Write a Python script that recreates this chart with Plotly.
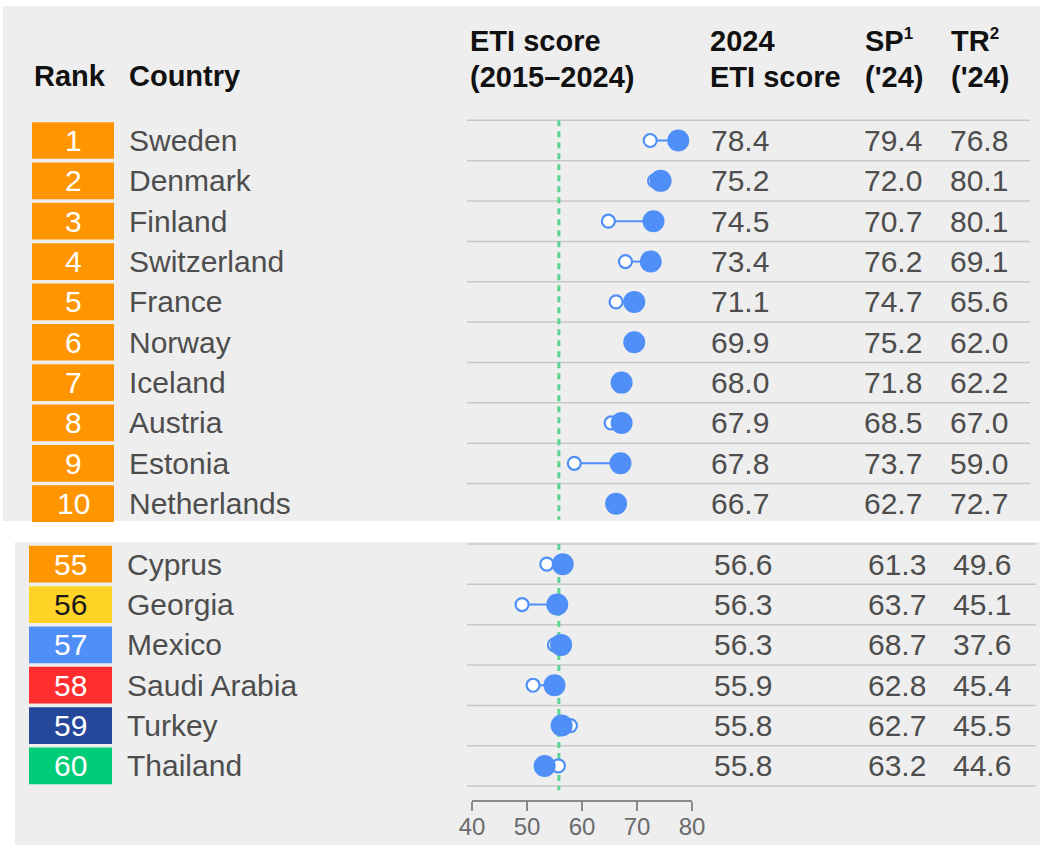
import plotly.graph_objects as go

# ---------------- data ----------------
ranks = [1, 2, 3, 4, 5, 6, 7, 8, 9, 10, 55, 56, 57, 58, 59, 60]
countries = ["Sweden", "Denmark", "Finland", "Switzerland", "France", "Norway",
             "Iceland", "Austria", "Estonia", "Netherlands",
             "Cyprus", "Georgia", "Mexico", "Saudi Arabia", "Turkey", "Thailand"]
# dot positions (2015 = hollow dot, 2024 = filled dot)
eti_dot_2015 = [72.4, 73.2, 64.8, 67.9, 66.2, 69.5, 67.2, 65.3, 58.6, 66.2,
                53.6, 49.1, 55.0, 51.1, 57.9, 55.7]
eti_dot_2024 = [77.5, 74.3, 73.0, 72.5, 69.5, 69.5, 67.2, 67.2, 67.0, 66.2,
                56.5, 55.5, 56.2, 55.0, 56.3, 53.2]
eti_2024 = [78.4, 75.2, 74.5, 73.4, 71.1, 69.9, 68.0, 67.9, 67.8, 66.7,
            56.6, 56.3, 56.3, 55.9, 55.8, 55.8]
sp_2024 = [79.4, 72.0, 70.7, 76.2, 74.7, 75.2, 71.8, 68.5, 73.7, 62.7,
           61.3, 63.7, 68.7, 62.8, 62.7, 63.2]
tr_2024 = [76.8, 80.1, 80.1, 69.1, 65.6, 62.0, 62.2, 67.0, 59.0, 72.7,
           49.6, 45.1, 37.6, 45.4, 45.5, 44.6]
benchmark = 55.8
axis_ticks = [40, 50, 60, 70, 80]

# ---------------- style ----------------
W, H = 1040, 845
ROW0_PX, ROW_PX = 140.5, 40.35
BLUE = "#4f8ff7"
GREEN = "#5cd393"
PANEL = "#eeeeee"
SEP = "#c8c8c8"
TXT = "#4d4d4d"
FONT = "Liberation Sans, Arial, sans-serif"
rank_fill = {55: "#ff9500", 56: "#ffd426", 57: "#4f8ff7", 58: "#ff2d2d",
             59: "#25479a", 60: "#00cc77"}
rank_text = {56: "#1a1a1a"}

def px(x):
    return x / W

def py(y):
    return 1 - y / H

# row coordinates: top block 0..9, bottom block after a gap
rows = []
for k, r in enumerate(ranks):
    rows.append(k if r <= 10 else k + 0.5)

y_top = (0 - ROW0_PX) / ROW_PX
y_bot = (H - ROW0_PX) / ROW_PX

fig = go.Figure()

# connectors
lx, ly = [], []
for a, b, r in zip(eti_dot_2015, eti_dot_2024, rows):
    lx += [a, b, None]
    ly += [r, r, None]
fig.add_trace(go.Scatter(x=lx, y=ly, mode="lines",
                         line=dict(color=BLUE, width=2), hoverinfo="skip",
                         showlegend=False))
fig.add_trace(go.Scatter(x=eti_dot_2015, y=rows, mode="markers",
                         marker=dict(size=13, color="white",
                                     line=dict(color=BLUE, width=2.2)),
                         showlegend=False, name="2015"))
fig.add_trace(go.Scatter(x=eti_dot_2024, y=rows, mode="markers",
                         marker=dict(size=22, color=BLUE,
                                     line=dict(width=0)),
                         showlegend=False, name="2024"))

shapes = []
# panels
shapes.append(dict(type="rect", xref="paper", yref="paper", layer="below",
                   x0=px(3), x1=1, y0=py(521), y1=py(6),
                   fillcolor=PANEL, line=dict(width=0)))
shapes.append(dict(type="rect", xref="paper", yref="paper", layer="below",
                   x0=px(15), x1=1, y0=0, y1=py(542),
                   fillcolor=PANEL, line=dict(width=0)))

# separators
top_rows = [r for r, k in zip(rows, ranks) if k <= 10]
bot_rows = [r for r, k in zip(rows, ranks) if k > 10]
for r in top_rows:
    shapes.append(dict(type="line", xref="paper", yref="y", layer="below",
                       x0=px(467), x1=px(1030), y0=r - 0.5, y1=r - 0.5,
                       line=dict(color=SEP, width=1.5)))
for r in bot_rows + [bot_rows[-1] + 1]:
    shapes.append(dict(type="line", xref="paper", yref="y", layer="below",
                       x0=px(467), x1=px(1036), y0=r - 0.5, y1=r - 0.5,
                       line=dict(color=SEP, width=1.5)))

# benchmark dashed line (two segments)
shapes.append(dict(type="line", xref="x", yref="y", layer="below",
                   x0=benchmark, x1=benchmark, y0=top_rows[0] - 0.5,
                   y1=top_rows[-1] + 0.4,
                   line=dict(color=GREEN, width=3, dash="6px,5px")))
shapes.append(dict(type="line", xref="x", yref="y", layer="below",
                   x0=benchmark, x1=benchmark, y0=bot_rows[0] - 0.5,
                   y1=bot_rows[-1] + 0.6,
                   line=dict(color=GREEN, width=3, dash="6px,5px")))

annotations = []

def ann(text, x, y, xanchor="left", yref="y", size=30, color=TXT, bold=False):
    annotations.append(dict(text=text, x=x, y=y, xref="paper", yref=yref,
                            xanchor=xanchor, yanchor="middle", showarrow=False,
                            font=dict(family=FONT, size=size, color=color,
                                      weight="bold" if bold else "normal")))

for k, (rk, c, r) in enumerate(zip(ranks, countries, rows)):
    top = rk <= 10
    bx0, bx1 = (32, 114) if top else (29, 112)
    shapes.append(dict(type="rect", xref="paper", yref="y", layer="below",
                       x0=px(bx0), x1=px(bx1), y0=r - 0.455, y1=r + 0.455,
                       fillcolor=rank_fill.get(rk, "#ff9500"),
                       line=dict(width=0)))
    ann(str(rk), px((bx0 + bx1) / 2), r, xanchor="center",
        color=rank_text.get(rk, "white"))
    ann(c, px(127 if top else 125), r)
    ann(f"{eti_2024[k]:.1f}", px(709 if top else 712), r)
    ann(f"{sp_2024[k]:.1f}", px(924 if top else 928), r, xanchor="right")
    ann(f"{tr_2024[k]:.1f}", px(1010 if top else 1013), r, xanchor="right")

# headers
HC = "#111111"
SUP = "<sup><span style='font-size:17px'>{}</span></sup>"
ann("Rank", px(32), py(76), yref="paper", color=HC, size=29, bold=True)
ann("Country", px(127), py(76), yref="paper", color=HC, size=29, bold=True)
ann("ETI score", px(468), py(41), yref="paper", color=HC, size=29, bold=True)
ann("(2015–2024)", px(468), py(77), yref="paper", color=HC, size=29, bold=True)
ann("2024", px(708), py(41), yref="paper", color=HC, size=29, bold=True)
ann("ETI score", px(708), py(77), yref="paper", color=HC, size=29, bold=True)
ann("SP" + SUP.format(1), px(863), py(41), yref="paper", color=HC, size=29, bold=True)
ann("('24)", px(863), py(77), yref="paper", color=HC, size=29, bold=True)
ann("TR" + SUP.format(2), px(949), py(41), yref="paper", color=HC, size=29, bold=True)
ann("('24)", px(949), py(77), yref="paper", color=HC, size=29, bold=True)

fig.update_layout(
    width=W, height=H, autosize=False,
    margin=dict(l=0, r=0, t=0, b=0, pad=0, autoexpand=False),
    paper_bgcolor="white", plot_bgcolor="rgba(0,0,0,0)",
    font=dict(family=FONT),
    shapes=shapes, annotations=annotations,
    showlegend=False,
    xaxis=dict(domain=[px(472), px(692)], range=[40, 80],
               tickvals=axis_ticks, ticktext=[str(t) for t in axis_ticks],
               showgrid=False, zeroline=False, showline=True,
               linecolor="#8a8a8a", linewidth=1.5, automargin=False,
               ticks="outside", ticklen=9, tickwidth=1.5, tickcolor="#8a8a8a",
               tickfont=dict(family=FONT, size=24, color="#6b6b6b"),
               ticklabelstandoff=-5,
               anchor="free", position=py(801)),
    yaxis=dict(domain=[0, 1], range=[y_bot, y_top], visible=False,
               showgrid=False, zeroline=False, automargin=False),
)

fig.write_html("out.html", config={"displayModeBar": False},
               post_script="document.body.style.margin='0';"
                           "document.body.style.overflow='hidden';")
